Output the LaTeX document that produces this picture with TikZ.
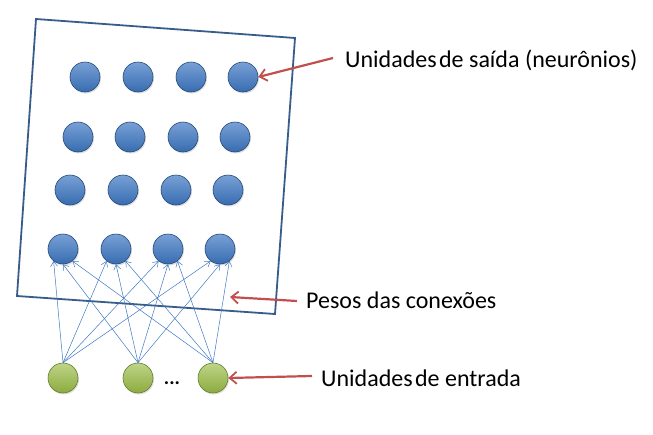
\documentclass[tikz,border=0pt]{standalone}
\usepackage{fontspec}
\setmainfont{Carlito}
\usetikzlibrary{arrows.meta,shadows}
\definecolor{boxblue}{RGB}{56,93,138}
\definecolor{nblue}{RGB}{62,120,196}
\definecolor{ngreen}{RGB}{155,190,70}
\definecolor{lred}{RGB}{192,80,77}
\tikzset{
  bneuron/.style={circle,minimum size=30pt,inner sep=0pt,draw=nblue!60!black,line width=0.6pt,
    top color=nblue!70!white,bottom color=nblue!90!black,drop shadow={opacity=0.25,shadow xshift=1pt,shadow yshift=-1.5pt}},
  gneuron/.style={circle,minimum size=30pt,inner sep=0pt,draw=ngreen!65!black,line width=0.6pt,
    top color=ngreen!65!white,bottom color=ngreen!90!black,drop shadow={opacity=0.25,shadow xshift=1pt,shadow yshift=-1.5pt}},
  conn/.style={draw=nblue,line width=0.5pt,-{Straight Barb[length=5pt,width=7pt,line width=0.5pt]}},
  redarrow/.style={draw=lred,line width=2.2pt,-{Straight Barb[length=7pt,width=12pt,line width=1.8pt]}},
  lbl/.style={font=\fontsize{24}{28}\selectfont,anchor=west,inner sep=0pt}
}
\begin{document}
\begin{tikzpicture}[x=1pt,y=-1pt]
\useasboundingbox (0,0) rectangle (653,434);
% box
\coordinate (tl) at (36,19);
\coordinate (tr) at (295,38);
\coordinate (br) at (275,314);
\coordinate (bl) at (17,296);
\draw[boxblue,line width=1.8pt,line join=miter] (tl) -- (tr) -- (br) -- (bl) -- cycle;
% blue neurons
\foreach \x [count=\i] in {85,138,191,243} \node[bneuron] (a\i) at (\x,77) {};
\foreach \x [count=\i] in {78,130,183,235} \node[bneuron] (b\i) at (\x,137) {};
\foreach \x [count=\i] in {70,123,176,228} \node[bneuron] (c\i) at (\x,190) {};
\foreach \x [count=\i] in {63,116,168,220} \node[bneuron] (d\i) at (\x,249) {};
% green neurons
\foreach \x [count=\i] in {63,138,213} \node[gneuron] (g\i) at (\x,378) {};
\node[font=\fontsize{20}{22}\selectfont\bfseries,inner sep=0pt] (dots) at (172,383) {...};
% connections
\foreach \j in {1,2,3,4}{
  \draw[conn] (g1.north) -- (d\j.232);
  \draw[conn] (g2.north) -- (d\j.270);
  \draw[conn] (g3.north) -- (d\j.308);
}
% labels
\node[lbl] (l1) at (345,60) {Unidades\hspace{0.1em}de saída (neurônios)};
\node[lbl] (l2) at (306,300) {Pesos das conexões};
\node[lbl] (l3) at (321,378) {Unidades\hspace{0.1em}de entrada};
\coordinate (p2) at (230,297);
\draw[redarrow] (333,58) -- (a4.east);
\draw[redarrow] (297,301) -- (p2);
\draw[redarrow] (312,376) -- (g3.east);
\end{tikzpicture}
\end{document}
